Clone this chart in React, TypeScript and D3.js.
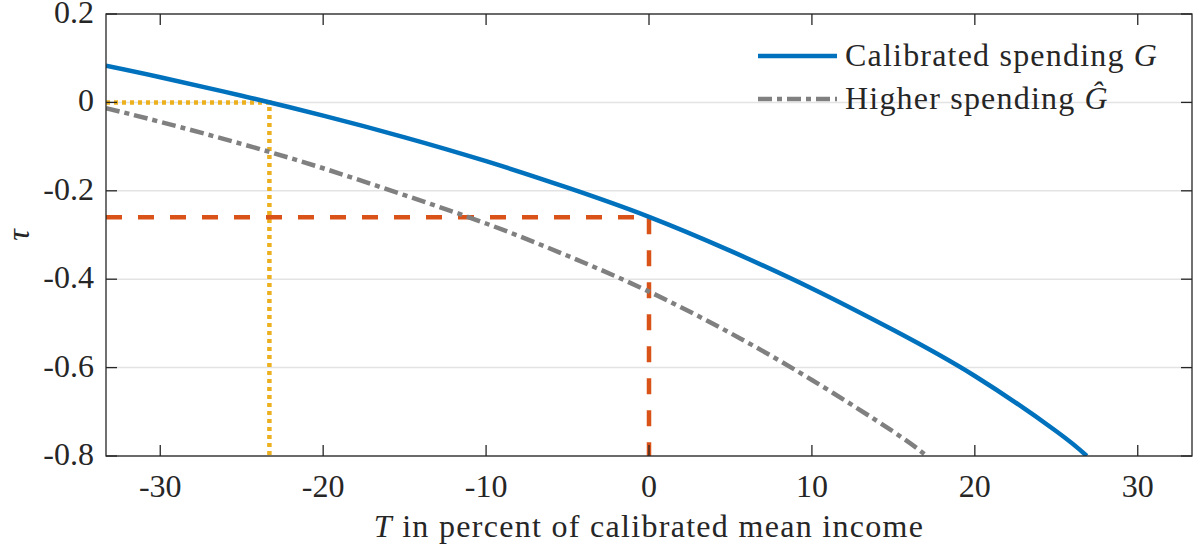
import * as d3 from 'd3';
import React, { useEffect, useRef } from 'react';

const W = 1199;
const H = 546;
const margin = { top: 14, right: 7, bottom: 90, left: 106 };

// T in percent of calibrated mean income (x) and tau (y)
const calibratedT = [-33.33, -30, -25, -20, -15, -10, -5, 0, 5, 10, 15, 20, 25, 26.87];
const calibratedTau = [0.083, 0.057, 0.015, -0.03, -0.079, -0.133, -0.193, -0.259, -0.336, -0.421, -0.515, -0.619, -0.744, -0.8];

const higherT = [-33.33, -30, -25, -20, -15, -10, -5, 0, 5, 10, 15, 17.05];
const higherTau = [-0.013, -0.044, -0.094, -0.149, -0.21, -0.274, -0.347, -0.428, -0.522, -0.628, -0.745, -0.8];

// guide lines: where tau = 0 on the calibrated curve, and tau at T = 0
const zeroTauT = -23.3;
const calibTauAtZero = -0.26;

const xDomain: [number, number] = [-33.33, 33.33];
const yDomain: [number, number] = [-0.8, 0.2];
const xTicks = [-30, -20, -10, 0, 10, 20, 30];
const yTicks = [0.2, 0, -0.2, -0.4, -0.6, -0.8];
const yTickLabels = ['0.2', '0', '-0.2', '-0.4', '-0.6', '-0.8'];

const legendNames = ['Calibrated spending ', 'Higher spending '];
const legendSymbols = ['G', '\u011C'];

const BLUE = '#0072BD';
const GRAY = '#808080';
const ORANGE = '#D95319';
const YELLOW = '#EDB120';
const AXIS = '#262626';
const FONT = "'Liberation Serif', 'Times New Roman', Times, 'DejaVu Serif', serif";
const DASHDOT = '14,5,5,5';

const Chart = () => {
    const svgRef = useRef<SVGSVGElement | null>(null);

    useEffect(() => {
        const svg = d3.select(svgRef.current);
        svg.selectAll('*').remove();

        const x = d3
            .scaleLinear()
            .domain(xDomain)
            .range([margin.left, W - margin.right]);
        const y = d3
            .scaleLinear()
            .domain(yDomain)
            .range([H - margin.bottom, margin.top]);

        const [x0, x1] = x.range();
        const [y0, y1] = y.range(); // y0 bottom, y1 top

        svg.append('defs')
            .append('clipPath')
            .attr('id', 'plot-clip')
            .append('rect')
            .attr('x', x0)
            .attr('y', y1)
            .attr('width', x1 - x0)
            .attr('height', y0 - y1);

        // horizontal grid
        svg.append('g')
            .selectAll('line')
            .data(yTicks)
            .join('line')
            .attr('x1', x0)
            .attr('x2', x1)
            .attr('y1', (d) => y(d))
            .attr('y2', (d) => y(d))
            .attr('stroke', '#e3e3e3')
            .attr('stroke-width', 1.5);

        const plot = svg.append('g').attr('clip-path', 'url(#plot-clip)');

        // yellow dotted guide
        plot.append('path')
            .attr(
                'd',
                `M${x(xDomain[0])},${y(0)}H${x(zeroTauT)}V${y(yDomain[0])}`,
            )
            .attr('fill', 'none')
            .attr('stroke', YELLOW)
            .attr('stroke-width', 4.5)
            .attr('stroke-dasharray', '4,4');

        // orange dashed guide
        plot.append('path')
            .attr(
                'd',
                `M${x(xDomain[0])},${y(calibTauAtZero)}H${x(0)}V${y(yDomain[0])}`,
            )
            .attr('fill', 'none')
            .attr('stroke', ORANGE)
            .attr('stroke-width', 4.5)
            .attr('stroke-dasharray', '16,16');

        const line = d3
            .line<[number, number]>()
            .x((d) => x(d[0]))
            .y((d) => y(d[1]))
            .curve(d3.curveNatural);

        const higher = higherT.map((t, i) => [t, higherTau[i]] as [number, number]);
        const calibrated = calibratedT.map(
            (t, i) => [t, calibratedTau[i]] as [number, number],
        );

        plot.append('path')
            .attr('d', line(higher))
            .attr('fill', 'none')
            .attr('stroke', GRAY)
            .attr('stroke-width', 4.5)
            .attr('stroke-dasharray', DASHDOT);

        plot.append('path')
            .attr('d', line(calibrated))
            .attr('fill', 'none')
            .attr('stroke', BLUE)
            .attr('stroke-width', 4.5);

        // box + inward ticks on all sides
        const axes = svg.append('g').attr('stroke', AXIS).attr('stroke-width', 1.3);
        axes.append('rect')
            .attr('x', x0)
            .attr('y', y1)
            .attr('width', x1 - x0)
            .attr('height', y0 - y1)
            .attr('fill', 'none');
        const tl = 11;
        xTicks.forEach((t) => {
            axes.append('line').attr('x1', x(t)).attr('x2', x(t)).attr('y1', y0).attr('y2', y0 - tl);
            axes.append('line').attr('x1', x(t)).attr('x2', x(t)).attr('y1', y1).attr('y2', y1 + tl);
        });
        yTicks.forEach((t) => {
            axes.append('line').attr('x1', x0).attr('x2', x0 + tl).attr('y1', y(t)).attr('y2', y(t));
            axes.append('line').attr('x1', x1).attr('x2', x1 - tl).attr('y1', y(t)).attr('y2', y(t));
        });

        const txt = svg.append('g').style('font-family', FONT).attr('font-size', 32).attr('fill', AXIS);

        txt.selectAll('text.xt')
            .data(xTicks)
            .join('text')
            .attr('class', 'xt')
            .attr('x', (d) => x(d))
            .attr('y', 497)
            .attr('text-anchor', 'middle')
            .text((d) => String(d));

        txt.selectAll('text.yt')
            .data(yTicks)
            .join('text')
            .attr('class', 'yt')
            .attr('x', x0 - 12)
            .attr('y', (d) => y(d) + 9)
            .attr('text-anchor', 'end')
            .text((d, i) => yTickLabels[i]);

        const xl = txt.append('text')
            .attr('x', (x0 + x1) / 2)
            .attr('y', 537)
            .attr('text-anchor', 'middle')
            .attr('letter-spacing', 1.3);
        xl.append('tspan').attr('font-style', 'italic').text('T');
        xl.append('tspan').text(' in percent of calibrated mean income');

        txt.append('text')
            .attr('transform', `translate(29,${(y0 + y1) / 2}) rotate(-90)`)
            .attr('text-anchor', 'middle')
            .attr('font-style', 'italic')
            .text('\u03C4');

        // legend
        const leg = svg.append('g');
        const rows = [
            { y: 56, color: BLUE, dash: null },
            { y: 99, color: GRAY, dash: DASHDOT },
        ];
        rows.forEach((r, i) => {
            leg.append('line')
                .attr('x1', 758)
                .attr('x2', 837)
                .attr('y1', r.y)
                .attr('y2', r.y)
                .attr('stroke', r.color)
                .attr('stroke-width', 4.5)
                .attr('stroke-dasharray', r.dash);
            const t = leg.append('text')
                .attr('x', 845)
                .attr('y', r.y + 10)
                .style('font-family', FONT)
                .attr('font-size', 32)
                .attr('letter-spacing', 1.2)
                .attr('fill', AXIS);
            t.append('tspan').text(legendNames[i]);
            t.append('tspan').attr('font-style', 'italic').text(legendSymbols[i]);
        });
    });

    return (
        <svg
            ref={svgRef}
            width={W}
            height={H}
            viewBox={`0 0 ${W} ${H}`}
            style={{ position: 'absolute', left: 0, top: 0, background: '#fff' }}
        />
    );
};

export default function App() {
    return <Chart />;
}
